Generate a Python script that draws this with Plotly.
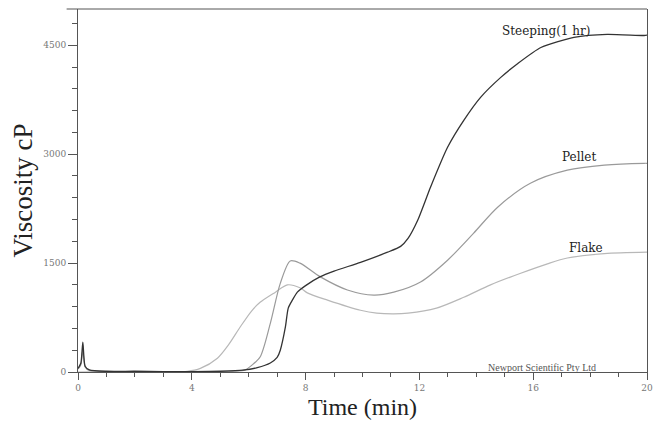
import plotly.graph_objects as go

# Steeping (1 hr)
steep_t = [0, 0.1, 0.17, 0.25, 0.4, 1, 2, 3, 4, 5, 5.8, 6.3, 6.76, 7.0, 7.11, 7.29, 7.39, 7.55, 7.71, 8.0,
           8.5, 9.0, 9.93, 10.88, 11.34, 11.6, 11.94, 12.39, 12.99, 13.56, 14.15, 14.86, 15.46, 16.27, 17.43,
           18.6, 19.9, 20]
steep_v = [50, 120, 410, 80, 30, 10, 10, 5, 5, 10, 25, 60, 124, 200, 300, 620, 880, 1000, 1100, 1190,
           1310, 1390, 1510, 1650, 1730, 1840, 2090, 2545, 3095, 3466, 3783, 4058, 4250, 4470, 4608,
           4650, 4635, 4640]

# Pellet
pellet_t = [0, 0.1, 0.17, 0.25, 0.4, 1, 2, 3, 4, 5, 5.5, 5.88, 6.1, 6.4, 6.76, 7.11, 7.46, 7.8, 8.52, 9.47,
            10.4, 11.1, 12.04, 12.99, 13.9, 14.75, 15.9, 17.2, 18.5, 19.9, 20]
pellet_v = [40, 100, 300, 70, 20, 5, 5, 5, 5, 5, 10, 30, 90, 206, 670, 1220, 1530, 1500, 1310, 1130,
            1060, 1100, 1240, 1540, 1910, 2270, 2600, 2780, 2850, 2875, 2875]

# Flake
flake_t = [0, 1, 2, 3, 3.84, 4.3, 4.9, 5.3, 5.7, 6.1, 6.4, 6.94, 7.36, 7.8, 8.06, 8.77, 9.93, 10.5, 11.1,
           11.6, 12.6, 13.56, 14.5, 15.56, 16.5, 17.2, 18.5, 20]
flake_v = [0, 5, 5, 5, 10, 50, 190, 380, 620, 840, 960, 1100, 1200, 1160, 1090, 990, 850, 810, 800,
           810, 880, 1030, 1200, 1360, 1490, 1570, 1630, 1650]

x_ticks = [0, 4, 8, 12, 16, 20]
y_ticks = [0, 1500, 3000, 4500]

serif = "Liberation Serif"
wide = "DejaVu Serif"

fig = go.Figure()
fig.add_trace(go.Scatter(x=flake_t, y=flake_v, mode="lines", name="Flake",
                         line=dict(color="#b8b8b8", width=1.2, shape="spline", smoothing=0.8)))
fig.add_trace(go.Scatter(x=pellet_t, y=pellet_v, mode="lines", name="Pellet",
                         line=dict(color="#9a9a9a", width=1.2, shape="spline", smoothing=0.8)))
fig.add_trace(go.Scatter(x=steep_t, y=steep_v, mode="lines", name="Steeping(1 hr)",
                         line=dict(color="#333333", width=1.3, shape="spline", smoothing=0.6)))

fig.update_layout(
    width=653, height=421,
    margin=dict(l=70, r=14, t=1, b=57),
    paper_bgcolor="white", plot_bgcolor="white",
    showlegend=False,
    font=dict(family=serif, color="#333"),
)
fig.update_xaxes(
    range=[0, 20], tickvals=x_ticks, ticktext=[str(v) for v in x_ticks],
    showgrid=False, zeroline=False,
    showline=True, linecolor="#555", linewidth=1, mirror=False,
    ticks="outside", ticklen=7, tickcolor="#555",
    minor=dict(dtick=1, ticks="outside", ticklen=4, tickcolor="#555", showgrid=False),
    tickfont=dict(family=wide, size=9, color="#777"),
    title=dict(text="Time (min)", font=dict(family=serif, size=24, color="#222"), standoff=6),
)
fig.update_yaxes(
    range=[0, 5000], tickvals=y_ticks, ticktext=[str(v) for v in y_ticks],
    showgrid=False, zeroline=False,
    showline=True, linecolor="#555", linewidth=1, mirror=True,
    ticks="outside", ticklen=9, tickcolor="#555",
    minor=dict(dtick=300, ticks="outside", ticklen=5, tickcolor="#555", showgrid=False),
    tickfont=dict(family=wide, size=9, color="#777"),
    title=dict(text="Viscosity cP", font=dict(family=serif, size=27, color="#222"), standoff=8),
)
fig.add_shape(type="line", xref="paper", yref="paper", x0=-0.02, x1=1, y0=1, y1=1,
              line=dict(color="#555", width=1))

fig.add_annotation(x=16.44, y=4700, text="Steeping(1 hr)", showarrow=False,
                   font=dict(family=wide, size=12, color="#222"))
fig.add_annotation(x=17.6, y=2960, text="Pellet", showarrow=False,
                   font=dict(family=wide, size=12, color="#222"))
fig.add_annotation(x=17.85, y=1710, text="Flake", showarrow=False,
                   font=dict(family=wide, size=12, color="#222"))
fig.add_annotation(x=16.3, y=60, text="Newport Scientific Pty Ltd", showarrow=False,
                   font=dict(family=serif, size=10, color="#555"))

fig.write_html("out.html")
